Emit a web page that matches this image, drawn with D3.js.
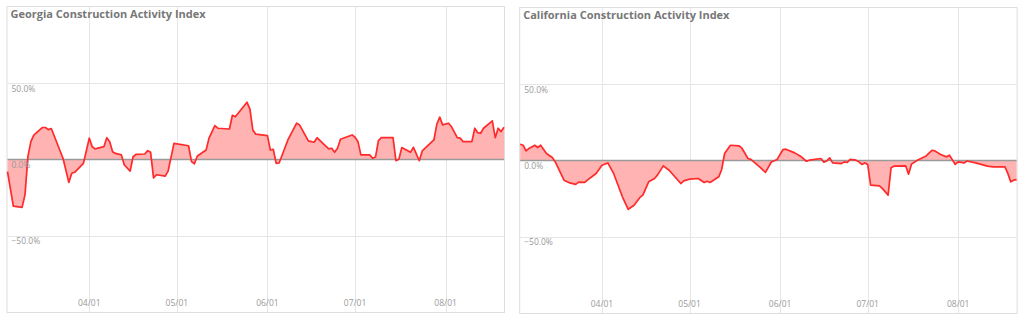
<!DOCTYPE html>
<html>
<head>
<meta charset="utf-8">
<script src="https://cdn.jsdelivr.net/npm/d3@7"></script>
<style>
  html, body { margin: 0; padding: 0; background: #fff; }
  svg { display: block; }
</style>
</head>
<body>
<svg id="chart" width="1024" height="323"></svg>
<script>
// ---------- DATA ----------
const gaDates = ["03-04","03-06","03-09","03-10","03-11","03-12","03-13","03-16","03-17","03-18","03-19","03-23","03-25","03-26","03-27","03-30",
"04-01","04-02","04-03","04-06","04-07","04-08","04-09","04-10","04-12","04-13","04-15","04-16","04-17","04-20","04-21","04-22","04-23","04-24","04-27","04-28","04-30",
"05-05","05-06","05-07","05-08","05-11","05-12","05-14","05-15","05-19","05-20","05-21","05-25","05-26","05-27","05-28",
"06-01","06-02","06-03","06-04","06-05","06-08","06-11","06-12","06-15","06-17","06-18","06-20","06-22","06-23","06-24","06-25","06-26","06-30",
"07-01","07-02","07-03","07-06","07-07","07-08","07-09","07-10","07-14","07-15","07-16","07-17","07-20","07-21","07-23","07-24","07-28","07-29","07-30","07-31",
"08-02","08-03","08-05","08-06","08-07","08-10","08-11","08-12","08-13","08-14","08-17","08-18","08-19","08-20","08-21"];
const gaValues = [-8,-30.6,-31.4,-23,2,11.7,16,21,21,19.6,20.3,0.8,-15,-9,-8.4,-2.5,
14,8.4,7,8.4,14.3,11.7,5,4,3,-3.6,-7.6,1.8,3.4,3.6,5.8,4.7,-12,-10,-10.9,-7.6,10.6,
9,-1.4,-2.8,2.3,6.2,14,22.2,20.5,20,29,28,37.6,33,19.4,16.6,
15.7,6.2,6.7,-2.5,-2.3,12.8,23.8,22.7,12.2,11.3,14.3,10.6,7,7.4,4.7,7.4,13.3,16.1,
14.6,11.7,3,3,0.8,1.6,12.4,14.3,14.3,-0.8,0.1,7.8,4.7,8,-0.8,5.6,12.8,23.2,27.8,22.7,
23.8,21.6,14.3,14,11.7,11.7,20.5,17.6,17.2,20.5,25.3,14.3,20.5,18.3,21.2];

const caDates = ["03-04","03-05","03-06","03-07","03-09","03-10","03-11","03-13","03-15","03-16","03-19","03-21","03-23","03-24","03-26","03-27","03-30",
"04-01","04-03","04-05","04-08","04-10","04-12","04-14","04-15","04-17","04-19","04-20","04-22","04-24","04-28","04-29",
"05-01","05-04","05-06","05-07","05-08","05-11","05-12","05-13","05-15","05-18","05-19","05-21","05-22","05-25","05-27","05-29","05-31",
"06-02","06-03","06-06","06-08","06-10","06-11","06-15","06-16","06-17","06-18","06-19","06-22","06-23","06-24","06-25","06-27","06-28","06-29","06-30",
"07-01","07-02","07-05","07-06","07-08","07-09","07-10","07-14","07-15","07-16","07-18","07-21","07-23","07-24","07-26","07-28","07-29","07-31",
"08-01","08-03","08-04","08-07","08-11","08-13","08-17","08-18","08-19","08-20","08-21"];
const caValues = [10.7,10,6.3,7.9,10,8.5,10,4.6,2,-0.9,-12.9,-14.7,-15.7,-14.2,-14.4,-12.9,-8.5,
-3.1,-1.6,-8.5,-23.8,-32,-29.3,-24.2,-22.7,-14,-11.8,-9.6,-3.5,-6.4,-15.1,-13.4,
-12.2,-11.8,-14.4,-13.6,-14.4,-10.7,-5.9,4.6,10,9.6,7.9,1.3,0.7,-4.2,-7.8,-1,0.7,
7.2,7.4,5,2.8,-0.5,0.2,1.3,-1.1,-0.3,1.7,-1.6,-2,-0.9,-1.3,0.7,0.2,-0.9,-2.6,-1.6,
-2.6,-16.2,-16.6,-18.3,-22.7,-4.8,-3.7,-3.5,-9,-2.4,0.2,3,6.7,6.3,3.9,2.4,3.5,-2.6,
-0.9,-1.6,-0.3,-1.6,-3.7,-4.2,-4.2,-8.5,-14,-12.9,-12.5];

const yTicks = [-50, 0, 50];
const xTickLabels = ["04/01","05/01","06/01","07/01","08/01"];
const titles = ["Georgia Construction Activity Index", "California Construction Activity Index"];
const YEAR = 2020;

// ---------- DRAW ----------
const parse = d3.timeParse("%Y-%m-%d");
const fmt = d3.timeFormat("%m/%d");
const svg = d3.select("#chart");

function panel(dates, values, title, box) {
  const data = dates.map((d, i) => ({ date: parse(YEAR + "-" + d), value: values[i] }));
  const x = d3.scaleTime()
    .domain(d3.extent(data, d => d.date))
    .range([box.x0, box.x1]);
  const y = d3.scaleLinear().domain([-100, 100]).range([box.y1, box.y0]);
  const xTicks = xTickLabels.map(t => parse(YEAR + "-" + t.replace("/", "-")));

  const g = svg.append("g");

  g.append("rect")
    .attr("x", box.x0 - 0.5).attr("y", box.y0 - 0.5)
    .attr("width", box.x1 - box.x0 + 1).attr("height", box.y1 - box.y0 + 1)
    .attr("fill", "#fff").attr("stroke", "#dedede").attr("stroke-width", 1);

  // grid
  g.selectAll(".vg").data(xTicks).join("line")
    .attr("x1", d => Math.round(x(d)) + 0.5).attr("x2", d => Math.round(x(d)) + 0.5)
    .attr("y1", box.y0).attr("y2", box.y1)
    .attr("stroke", "#e6e6e6").attr("stroke-width", 1);
  g.selectAll(".hg").data(yTicks.filter(v => v !== 0)).join("line")
    .attr("x1", box.x0).attr("x2", box.x1)
    .attr("y1", d => Math.round(y(d)) + 0.5).attr("y2", d => Math.round(y(d)) + 0.5)
    .attr("stroke", "#e6e6e6").attr("stroke-width", 1);

  // area
  const area = d3.area().x(d => x(d.date)).y0(y(0)).y1(d => y(d.value));
  g.append("path").datum(data).attr("d", area)
    .attr("fill", "#ffb3b3");

  // zero line
  g.append("line")
    .attr("x1", box.x0).attr("x2", box.x1)
    .attr("y1", y(0)).attr("y2", y(0))
    .attr("stroke", "#9a9a9a").attr("stroke-width", 1.5);

  // line
  const line = d3.line().x(d => x(d.date)).y(d => y(d.value));
  g.append("path").datum(data).attr("d", line)
    .attr("fill", "none").attr("stroke", "#ff2a2a").attr("stroke-width", 1.7)
    .attr("stroke-linejoin", "round");

  // y labels
  g.selectAll(".yl").data(yTicks).join("text")
    .attr("x", box.x0 + 4).attr("y", d => y(d) + 8.5)
    .attr("font-family", "'Open Sans', sans-serif").attr("font-size", 8.5)
    .attr("fill", "#9a9a9a")
    .text(d => d3.format(".1f")(d) + "%");

  // x labels
  g.selectAll(".xl").data(xTicks).join("text")
    .attr("x", d => x(d)).attr("y", box.y1 - 6)
    .attr("text-anchor", "middle")
    .attr("font-family", "'Open Sans', sans-serif").attr("font-size", 8.5)
    .attr("fill", "#9a9a9a")
    .text(d => fmt(d));

  // title
  g.append("text")
    .attr("x", box.x0 + 3).attr("y", box.y0 + 11)
    .attr("font-family", "'Open Sans', sans-serif").attr("font-weight", "bold")
    .attr("font-size", 11).attr("fill", "#777")
    .text(title);
}

panel(gaDates, gaValues, titles[0], { x0: 7.5, x1: 504, y0: 7, y1: 312 });
panel(caDates, caValues, titles[1], { x0: 520.2, x1: 1016.6, y0: 8, y1: 313 });
</script>
</body>
</html>
